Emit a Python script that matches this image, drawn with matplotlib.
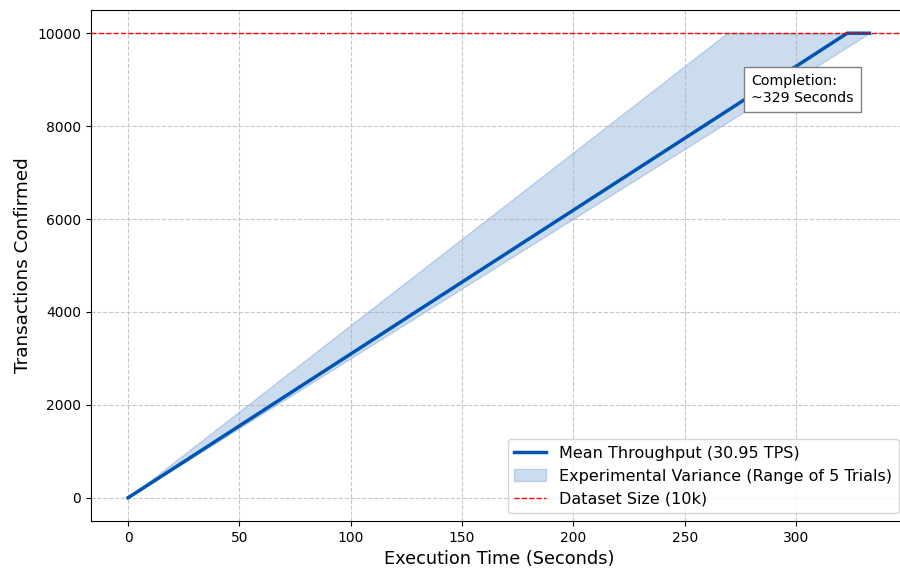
import matplotlib
matplotlib.use("Agg")
import matplotlib.pyplot as plt
import numpy as np

# Data
time_s = [0, 269, 323, 333]
mean_tx = [0, 8326, 10000, 10000]
lower_tx = [0, 8078, 9700, 10000]
upper_tx = [0, 10000, 10000, 10000]
dataset_size = 10000
mean_tps = 30.95
completion_s = 329

fig = plt.figure(figsize=(9.0, 5.71), dpi=100)
W, H = 900, 571
ax = fig.add_axes([91 / W, (H - 521) / H, (906.5 - 91) / W, (521 - 10) / H])

ax.fill_between(time_s, lower_tx, upper_tx, color="#0050b0", alpha=0.2,
                label="Experimental Variance (Range of 5 Trials)")
ax.plot(time_s, mean_tx, color="#0055b3", linewidth=2.5,
        label=f"Mean Throughput ({mean_tps} TPS)")
ax.axhline(dataset_size, color="red", linestyle="--", linewidth=1,
           label="Dataset Size (10k)")

ax.text(279.8, 8790, f"Completion:\n~{completion_s} Seconds", fontsize=10.2,
        ha="left", va="center",
        bbox=dict(boxstyle="square,pad=0.5", facecolor="white", edgecolor="gray"))

ax.set_xlim(-16.65, 349.65)
ax.set_ylim(-500, 10500)
ax.set_xticks([0, 50, 100, 150, 200, 250, 300])
ax.set_yticks([0, 2000, 4000, 6000, 8000, 10000])
ax.tick_params(labelsize=10)
ax.grid(True, linestyle="--", alpha=0.7)
ax.set_xlabel("Execution Time (Seconds)", fontsize=12.8)
ax.set_ylabel("Transactions Confirmed", fontsize=13.2)

h, l = ax.get_legend_handles_labels()
order = [1, 0, 2]
ax.legend([h[i] for i in order], [l[i] for i in order], loc="lower right", fontsize=11.5)

fig.savefig("out.png", dpi=100)
